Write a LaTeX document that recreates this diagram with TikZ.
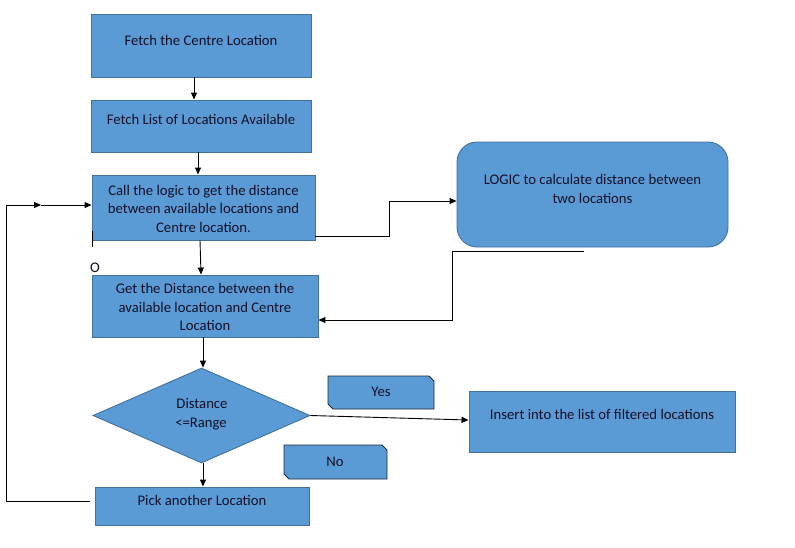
\documentclass[tikz,border=0pt]{standalone}
\usepackage{fontspec}
\setmainfont{Carlito}
\usetikzlibrary{arrows.meta,shapes.geometric}
\definecolor{boxfill}{HTML}{5B9BD5}
\definecolor{boxline}{HTML}{41719C}
\definecolor{snipline}{HTML}{1C2A3C}
\definecolor{txt}{HTML}{101028}
\begin{document}
\begin{tikzpicture}[x=1pt,y=-1pt,
  every node/.style={font=\fontsize{14.7}{18.5}\selectfont, text=txt},
  blk/.style={draw=boxline, fill=boxfill, line width=0.9pt, inner sep=0pt, minimum width=#1},
  shp/.style={draw=snipline, fill=boxfill, line width=0.9pt},
  lbl/.style={align=center, inner sep=0pt},
  arr/.style={draw=black, line width=0.9pt, -{Triangle[length=7pt,width=6pt]}},
  ln/.style={draw=black, line width=0.9pt}
]
\fill[white] (0,0) rectangle (795,547);
\useasboundingbox (0,0) rectangle (795,547);

% boxes
\node[blk=220pt, minimum height=63pt] (b1) at (201,45.5) {};
\node[lbl] (t1) at (201,40) {Fetch the Centre Location};
\node[blk=220pt, minimum height=52pt] (b2) at (201,126) {};
\node[lbl] (t2) at (201,119) {Fetch List of Locations Available};
\node[blk=223pt, minimum height=65pt] (b3) at (203.5,207.5) {};
\node[lbl] (t3) at (203.5,208.5) {Call the logic to get the distance\\between available locations and\\Centre location.};
\node[blk=226pt, minimum height=62pt] (b4) at (205,306) {};
\node[lbl] (t4) at (205,307) {Get the Distance between the\\available location and Centre\\Location};
\node[draw=boxline, fill=boxfill, line width=0.9pt, diamond, inner sep=0pt,
  minimum width=217pt, minimum height=95pt] (dec) at (201.5,415.5) {};
\node[lbl] (td) at (202,414) {Distance\\\kern-2pt<=Range};
\node[blk=214pt, minimum height=38pt] (pick) at (202,506) {};
\node[lbl] (tp) at (202,500) {Pick another Location};
% snipped-corner label boxes
\path[shp] (328,376) -- (429,376) -- (434,381) -- (434,409) -- (333,409) -- (328,404) -- cycle;
\node[lbl] (ty) at (381,392) {Yes};
\path[shp] (284,445) -- (382,445) -- (387,450) -- (387,479) -- (289,479) -- (284,474) -- cycle;
\node[lbl] (tn) at (335,462) {No};
\node[blk=266pt, minimum height=61pt] (ins) at (602,421.5) {};
\node[lbl] (ti) at (602,414) {Insert into the list of filtered locations};
\node[blk=271pt, minimum height=105pt, rounded corners=20pt] (logic) at (592.5,194.5) {};
\node[lbl] (tl) at (592.5,189) {LOGIC to calculate distance between\\two locations};
\node[lbl] (o) at (95,268) {O};

% connectors
\draw[arr] ([xshift=-7pt]b1.south) -- ([xshift=-7pt]b2.north);
\draw[arr] ([xshift=-3pt]b2.south) -- ([xshift=-5.5pt]b3.north);
\draw[arr] ([xshift=-3.5pt]b3.south) -- ([xshift=-4pt]b4.north);
\draw[arr] ([xshift=-2pt]b4.south) -- ([xshift=1.5pt]dec.north);
\draw[arr] ([xshift=1.5pt]dec.south) -- ([xshift=1pt]pick.north);
\draw[arr] (dec.east) -- ([yshift=1.5pt]ins.west);

\coordinate (c1) at (389,201);
\draw[arr] ([yshift=-28.5pt]b3.east) -| (c1) -- (c1 -| logic.west);

\coordinate (c2) at (584,251);
\coordinate (c3) at (452,320);
\draw[arr] (c2) -| (c3) -- (c3 -| b4.east);

\coordinate (c4) at (6,501);
\coordinate (c5) at (6,205);
\coordinate (c6) at (41,205);
\coordinate (pl) at (90,501);
\draw[ln] (pl) -- (c4) -- (c5);
\draw[arr] (c5) -- (c6);
\draw[arr] (c6) -- (c6 -| b3.west);

\coordinate (s1) at (92,231);
\coordinate (s2) at (92,247);
\draw[ln] (s1) -- (s2);
\end{tikzpicture}
\end{document}
